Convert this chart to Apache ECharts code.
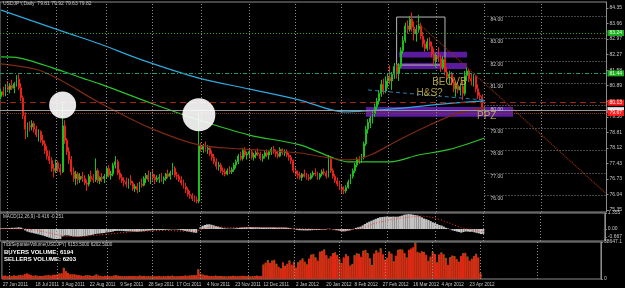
<!DOCTYPE html>
<html><head><meta charset="utf-8">
<script src="https://cdn.jsdelivr.net/npm/echarts@6/dist/echarts.min.js"></script>
<style>html,body{margin:0;padding:0;background:#000;}#c{width:625px;height:288px;}</style>
</head><body><div id="c"></div>
<script>
// ---------- DATA ----------
const firstDay = [2011, 5, 27];   // 27 Jun 2011
const lastDay = [2012, 3, 30];    // 30 Apr 2012
const emptyBarsRight = 55;
const xTickLabels = ["27 Jun 2011","18 Jul 2011","3 Aug 2011","22 Aug 2011","9 Sep 2011","28 Sep 2011","17 Oct 2011","4 Nov 2011","23 Nov 2011","12 Dec 2011","2 Jan 2012","20 Jan 2012","8 Feb 2012","27 Feb 2012","16 Mar 2012","4 Apr 2012","23 Apr 2012"];
const priceTicks = [84.35,83.66,82.97,82.27,81.58,80.89,80.20,79.50,78.81,78.12,77.43,76.73,76.04,75.35];
const macdTicks = [1.355, 0, -0.667];
const volTicks = [38.6471, 0];
const gridBars = [3,25,48,69,91,113,134,155,176,198,220,246];
const rightLevels = [84,83,82,81,80,79,78,77,76];

// candles: [open, high, low, close]
const candles = [
[80.40,80.75,80.30,80.62],[80.62,80.85,80.40,80.48],[80.48,80.95,80.42,80.85],[80.85,81.10,80.60,80.72],[80.72,81.00,80.55,80.90],
[80.90,81.15,80.70,80.78],[80.78,81.05,80.55,80.98],[80.98,81.36,80.85,81.18],[81.18,81.40,80.70,80.80],[80.80,81.00,80.20,80.35],
[80.35,80.45,79.40,79.55],[79.55,79.70,78.50,78.95],[78.95,79.25,78.60,79.10],[79.10,79.30,78.85,79.05],[79.05,79.35,78.90,79.20],
[79.20,79.30,78.80,78.95],[78.95,79.10,78.60,78.70],[78.70,78.95,78.40,78.85],[78.85,78.90,78.35,78.45],[78.45,78.70,78.20,78.30],
[78.30,78.45,77.85,78.00],[78.00,78.20,77.60,77.75],[77.75,78.00,77.40,77.55],[77.55,77.70,77.05,77.20],[77.20,77.40,76.80,77.10],
[77.10,77.60,77.00,77.45],[77.45,77.55,77.05,77.20],[77.20,77.40,76.90,77.05],[77.05,80.20,77.00,79.10],[79.10,79.35,78.30,78.45],
[78.45,78.55,77.80,77.95],[77.95,78.15,77.40,77.60],[77.60,77.75,76.90,77.05],[77.05,77.25,76.60,76.75],[76.75,77.10,76.45,76.95],
[76.95,77.05,76.50,76.70],[76.70,77.00,76.55,76.85],[76.85,77.05,76.60,76.75],[76.75,76.90,76.45,76.55],[76.55,76.70,76.20,76.50],
[76.50,76.95,76.40,76.85],[76.85,77.10,76.60,76.75],[76.75,76.95,76.55,76.70],[76.70,77.65,76.60,77.10],[77.10,77.20,76.55,76.65],
[76.65,76.85,76.50,76.80],[76.80,77.00,76.60,76.75],[76.75,76.95,76.55,76.85],[76.85,77.30,76.75,77.20],[77.20,77.35,76.80,76.90],
[76.90,77.10,76.70,76.95],[76.95,77.45,76.85,77.35],[77.35,77.75,77.20,77.50],[77.50,77.60,76.90,77.00],[77.00,77.15,76.70,76.80],
[76.80,76.95,76.55,76.65],[76.65,76.80,76.40,76.60],[76.60,76.80,76.35,76.50],[76.50,76.75,76.30,76.65],[76.65,76.90,76.45,76.55],
[76.55,76.65,76.20,76.30],[76.30,76.50,76.15,76.40],[76.40,76.55,76.10,76.25],[76.25,76.60,76.15,76.50],[76.50,76.75,76.35,76.45],
[76.45,76.85,76.40,76.75],[76.75,77.00,76.55,76.90],[76.90,77.10,76.60,76.70],[76.70,77.05,76.50,76.95],[76.95,77.15,76.65,76.80],
[76.80,76.95,76.50,76.70],[76.70,76.90,76.60,76.75],[76.75,76.95,76.55,76.80],[76.80,77.00,76.60,76.70],[76.70,76.85,76.50,76.75],
[76.75,77.00,76.65,76.95],[76.95,77.15,76.75,76.85],[76.85,77.10,76.70,77.00],[77.00,77.45,76.90,77.20],[77.20,77.30,76.80,76.90],
[76.90,77.05,76.70,76.85],[76.85,76.95,76.60,76.70],[76.70,76.85,76.45,76.55],[76.55,76.70,76.30,76.40],[76.40,76.55,76.10,76.25],
[76.25,76.35,75.95,76.05],[76.05,76.20,75.85,76.00],[76.00,76.10,75.75,75.85],[75.85,76.00,75.70,75.80],[75.80,75.95,75.65,75.75],
[75.75,79.70,75.65,78.20],[78.20,78.35,77.95,78.05],[78.05,78.30,77.90,78.20],[78.20,78.40,77.95,78.05],[78.05,78.25,77.85,78.10],
[78.10,78.20,77.75,77.85],[77.85,78.00,77.55,77.70],[77.70,77.85,77.40,77.50],[77.50,77.65,77.15,77.30],[77.30,77.50,77.10,77.35],
[77.35,77.45,77.00,77.10],[77.10,77.25,76.90,77.05],[77.05,77.20,76.85,76.95],[76.95,77.20,76.90,77.10],[77.10,77.30,76.95,77.05],
[77.05,77.25,76.95,77.15],[77.15,77.45,77.05,77.35],[77.35,77.60,77.20,77.50],[77.50,77.85,77.40,77.75],[77.75,77.95,77.55,77.65],
[77.65,78.10,77.55,78.00],[78.00,78.15,77.70,77.80],[77.80,77.95,77.60,77.85],[77.85,78.10,77.65,77.95],[77.95,78.05,77.60,77.70],
[77.70,77.90,77.55,77.80],[77.80,78.00,77.65,77.90],[77.90,78.10,77.75,77.85],[77.85,77.95,77.55,77.65],[77.65,77.85,77.50,77.75],
[77.75,78.00,77.65,77.90],[77.90,78.05,77.70,77.80],[77.80,78.00,77.60,77.95],[77.95,78.15,77.80,78.05],[78.05,78.20,77.85,77.95],
[77.95,78.05,77.70,77.85],[77.85,78.00,77.65,77.75],[77.75,78.15,77.70,78.05],[78.05,78.10,77.80,77.90],[77.90,78.05,77.75,77.95],
[77.95,78.05,77.70,77.80],[77.80,77.90,77.55,77.70],[77.70,77.80,77.40,77.55],[77.55,77.60,77.00,77.10],[77.10,77.25,76.85,76.95],
[76.95,77.10,76.75,76.90],[76.90,77.05,76.70,76.80],[76.80,77.00,76.65,76.95],[76.95,77.15,76.80,76.85],[76.85,77.00,76.70,76.80],
[76.80,76.95,76.65,76.75],[76.75,77.00,76.70,76.90],[76.90,77.10,76.80,77.00],[77.00,77.20,76.85,76.95],[76.95,77.05,76.70,76.80],
[76.80,77.00,76.70,76.95],[76.95,77.15,76.85,77.05],[77.05,77.20,76.90,77.00],[77.00,77.10,76.75,76.85],[76.85,77.80,76.80,77.60],
[77.60,77.75,77.00,77.10],[77.10,77.20,76.75,76.85],[76.85,76.95,76.55,76.65],[76.65,76.80,76.40,76.50],[76.50,76.65,76.25,76.35],
[76.35,76.50,76.10,76.25],[76.25,76.40,76.05,76.20],[76.20,76.45,76.10,76.35],[76.35,76.70,76.30,76.60],[76.60,76.95,76.50,76.85],
[76.85,77.20,76.75,77.10],[77.10,77.45,77.00,77.35],[77.35,77.70,77.25,77.60],[77.60,77.75,77.40,77.55],[77.55,77.85,77.45,77.70],
[77.70,78.40,77.60,78.30],[78.30,79.10,78.20,78.95],[78.95,79.40,78.75,79.25],[79.25,79.55,79.00,79.45],[79.45,79.80,79.20,79.65],
[79.65,80.10,79.50,79.95],[79.95,80.35,79.80,80.20],[80.20,80.70,80.05,80.55],[80.55,81.15,80.40,80.95],[80.95,81.20,80.50,80.65],
[80.65,81.30,80.55,81.10],[81.10,81.45,80.80,81.25],[81.25,81.80,80.95,81.10],[81.10,81.50,80.70,81.40],[81.40,81.90,81.20,81.75],
[81.75,81.85,81.20,81.45],[81.45,81.90,81.10,81.75],[81.75,82.60,81.65,82.45],[82.45,83.10,82.30,82.90],[82.90,83.70,82.80,83.55],
[83.55,83.80,83.20,83.40],[83.40,84.00,83.30,83.85],[83.85,84.15,83.30,83.50],[83.50,83.75,82.90,83.20],[83.20,83.60,82.85,83.40],
[83.40,84.05,83.25,83.55],[83.55,83.70,82.95,83.10],[83.10,83.30,82.60,82.75],[82.75,82.95,82.40,82.55],[82.55,83.00,82.45,82.85],
[82.85,83.05,82.50,82.65],[82.65,82.85,82.15,82.30],[82.30,82.55,81.80,82.00],[82.00,82.35,81.70,82.20],[82.20,82.60,81.95,82.10],
[82.10,82.25,81.50,81.70],[81.70,82.20,81.60,82.05],[82.05,82.15,81.35,81.50],[81.50,81.70,81.10,81.30],[81.30,81.55,80.95,81.40],
[81.40,81.50,80.90,81.05],[81.05,81.20,80.60,80.75],[80.75,81.00,80.40,80.90],[80.90,81.05,80.55,80.70],[80.70,81.00,80.45,80.85],
[80.85,81.10,80.25,80.55],[80.55,81.55,80.45,81.35],[81.35,81.70,81.10,81.55],[81.55,81.65,81.05,81.20],[81.20,81.45,80.90,81.10],
[81.10,81.40,80.85,81.30],[81.30,81.35,80.60,80.75],[80.75,80.95,80.30,80.45],[80.45,80.60,80.25,80.40],[80.40,80.50,79.75,79.85],
[79.81,79.92,79.63,79.82]
];

// moving averages: [bar index, value]
const maCyan = [[0,84.26],[29,83.28],[45,82.75],[64,82.04],[90,81.23],[113,80.74],[136,80.25],[156,79.72],[168,79.78],[181,79.88],[204,80.10],[220,80.21]];
const maGreen = [[0,82.17],[8,82.13],[29,81.50],[37,81.23],[45,80.97],[68,80.12],[90,79.36],[113,78.69],[136,78.25],[151,77.67],[158,77.49],[177,77.49],[190,77.80],[204,78.05],[220,78.56]];
const maBrown = [[0,81.86],[17,81.59],[27,81.14],[45,80.12],[68,79.00],[90,78.25],[109,78.07],[136,77.89],[149,77.67],[158,77.58],[168,77.80],[181,78.47],[195,79.14],[208,79.67],[220,79.90]];
const neckline = [[167,80.70],[220,80.25]];
const trendline = [[189,83.75],[275,76.11]];

// horizontal levels
const levelGreen1 = 83.24, levelGreen2 = 81.44, levelRed = 80.13, levelGrey = 79.80, levelBrown = 79.67;
// zones
const zonePPZ = [166, 233, 79.50, 79.94];
const zoneA = [181, 212, 82.15, 82.40];
const zoneB = [182, 212, 81.63, 81.90];
const boxTop = [180, 202, 81.81, 83.95];
// circles (bar, price, size)
const circles = [[28, 80.03, 27], [90, 79.59, 33]];
// annotation texts (bar, price, text)
const notes = [[204, 81.06, 'BEOVB'], [195, 80.57, 'H&S?'], [221, 79.54, 'PPZ']];

const macd = [
0.05,0.06,0.07,0.08,0.09,0.10,0.10,0.12,0.14,0.12,
0.02,-0.12,-0.22,-0.28,-0.32,-0.36,-0.41,-0.45,-0.50,-0.55,
-0.61,-0.67,-0.73,-0.79,-0.84,-0.85,-0.84,-0.84,-0.62,-0.55,
-0.54,-0.56,-0.60,-0.63,-0.64,-0.65,-0.63,-0.61,-0.60,-0.58,
-0.54,-0.51,-0.48,-0.42,-0.40,-0.38,-0.36,-0.34,-0.30,-0.28,
-0.26,-0.22,-0.17,-0.16,-0.16,-0.17,-0.18,-0.19,-0.20,-0.20,
-0.22,-0.22,-0.23,-0.22,-0.21,-0.19,-0.16,-0.14,-0.12,-0.11,
-0.10,-0.09,-0.08,-0.08,-0.08,-0.07,-0.06,-0.05,-0.03,-0.03,
-0.04,-0.06,-0.09,-0.12,-0.16,-0.20,-0.24,-0.27,-0.30,-0.32,
0.00,0.15,0.27,0.34,0.39,0.40,0.36,0.31,0.25,0.20,
0.15,0.10,0.06,0.04,0.03,0.03,0.04,0.06,0.08,0.10,
0.13,0.14,0.15,0.16,0.16,0.15,0.15,0.15,0.14,0.13,
0.13,0.13,0.13,0.14,0.14,0.13,0.12,0.13,0.13,0.13,
0.12,0.10,0.07,0.02,-0.03,-0.07,-0.10,-0.11,-0.12,-0.12,
-0.12,-0.11,-0.10,-0.09,-0.09,-0.08,-0.06,-0.05,-0.05,0.02,
0.02,-0.01,-0.05,-0.10,-0.14,-0.18,-0.20,-0.20,-0.17,-0.12,
-0.05,0.02,0.10,0.15,0.20,0.30,0.42,0.53,0.62,0.70,
0.78,0.86,0.93,1.00,1.02,1.04,1.05,1.04,1.04,1.05,
1.04,1.04,1.08,1.14,1.21,1.24,1.26,1.25,1.21,1.18,
1.15,1.08,0.99,0.89,0.83,0.76,0.67,0.57,0.50,0.43,
0.34,0.29,0.20,0.10,0.04,-0.03,-0.12,-0.17,-0.22,-0.26,
-0.31,-0.26,-0.21,-0.22,-0.24,-0.23,-0.28,-0.33,-0.37,-0.43,-0.416
];
const macdSignal = [[0,0.05],[12,0.0],[20,-0.25],[28,-0.6],[36,-0.65],[48,-0.45],[60,-0.22],[75,-0.12],[88,-0.22],[96,0.2],[105,0.12],[120,0.14],[135,0.05],[150,-0.06],[158,-0.12],[165,0.05],[170,0.45],[178,0.8],[186,1.0],[192,1.1],[198,0.95],[204,0.55],[210,0.1],[220,-0.251]];

// volumes in thousands of ticks
const volSellers = [
3.1,3.6,2.8,3.4,2.9,3.8,3.2,3.5,4.1,3.9,
5.2,5.8,4.6,3.9,3.4,3.6,3.1,3.3,3.0,3.5,
3.8,4.0,3.6,4.4,4.2,4.8,5.5,6.0,11.2,8.1,
6.2,5.0,4.6,4.9,4.1,3.8,3.4,3.2,3.6,4.0,
3.5,3.1,3.3,4.6,3.7,3.0,2.8,3.2,3.1,2.9,
3.0,3.4,3.8,3.3,3.0,2.9,2.7,3.1,2.8,3.0,
3.3,2.9,3.1,3.4,3.0,3.2,2.8,3.0,2.7,2.9,
2.6,2.8,3.0,2.7,2.9,2.8,3.1,2.9,3.3,3.0,
2.7,2.9,3.0,3.2,3.4,3.3,3.5,3.8,3.6,3.9,
9.8,5.6,4.4,3.9,3.5,3.3,3.0,3.2,3.4,3.1,
2.9,3.0,2.8,2.6,2.7,2.9,3.1,3.0,2.8,3.2,
3.4,3.1,2.9,3.0,2.8,2.7,3.1,3.3,2.9,3.0,
14.5,17.2,19.0,16.8,18.5,20.1,15.3,12.8,10.5,17.4,
13.2,16.0,18.8,14.9,17.5,12.1,16.9,19.6,20.8,18.2,
14.7,21.5,24.8,26.2,22.0,19.3,27.9,29.5,30.3,25.1,
20.8,23.9,26.4,28.0,24.6,21.2,16.1,22.7,25.3,24.0,
13.5,15.8,24.2,27.0,25.6,23.1,28.9,30.4,26.5,21.8,
14.2,26.7,29.3,27.8,31.5,25.9,19.7,22.4,28.1,26.6,
17.9,24.5,29.8,31.2,30.1,27.3,21.9,30.6,31.9,33.2,
37.5,28.4,26.8,29.1,27.6,25.4,18.3,23.5,27.9,26.1,
16.7,25.8,27.2,26.0,21.4,14.9,22.1,24.6,23.3,20.9,
17.5,24.0,26.3,27.4,22.8,19.2,20.5,23.9,25.7,22.6,
5.8
];
const volBuyers = [
3.3,3.4,3.0,3.2,3.1,3.6,3.4,3.7,4.3,3.7,
4.9,5.5,4.8,4.1,3.2,3.8,3.3,3.1,3.2,3.3,
3.6,4.2,3.4,4.2,4.4,4.6,5.8,5.7,11.8,7.8,
6.5,4.8,4.8,4.7,4.3,3.6,3.6,3.0,3.8,3.8,
3.7,3.0,3.5,4.8,3.5,3.2,2.6,3.4,2.9,3.1,
2.8,3.6,4.0,3.1,3.2,2.7,2.9,2.9,3.0,2.8,
3.1,3.1,2.9,3.6,2.8,3.4,2.6,3.2,2.9,2.7,
2.8,2.6,3.2,2.5,3.1,2.6,3.3,2.7,3.5,2.8,
2.9,2.7,3.2,3.0,3.6,3.1,3.7,3.6,3.8,3.7,
10.3,5.4,4.6,3.7,3.7,3.1,3.2,3.0,3.6,2.9,
3.1,2.8,3.0,2.4,2.9,2.7,3.3,2.8,3.0,3.0,
3.2,3.3,2.7,3.2,2.6,2.9,2.9,3.5,2.7,3.2,
15.2,16.5,19.8,16.1,19.3,19.4,16.0,12.1,11.2,16.7,
13.9,15.3,19.5,14.2,18.2,11.4,17.6,18.9,21.5,17.5,
15.4,20.8,25.5,25.5,22.7,18.6,28.6,28.8,31.0,24.4,
21.5,23.2,27.1,27.3,25.3,20.5,16.8,22.0,26.0,23.3,
14.2,15.1,24.9,26.3,26.3,22.4,29.6,29.7,27.2,21.1,
14.9,26.0,30.0,27.1,32.2,25.2,20.4,21.7,28.8,25.9,
18.6,23.8,30.5,30.5,30.8,26.6,22.6,29.9,31.3,32.5,
38.2,27.7,27.5,28.4,28.3,24.7,19.0,22.8,28.6,25.4,
17.4,25.1,27.9,25.3,22.1,14.2,22.8,23.9,24.0,20.2,
18.2,23.3,27.0,26.7,23.5,18.5,21.2,23.2,26.4,21.9,
6.0
];

// ---------- BUILD ----------
const MON = ['Jan','Feb','Mar','Apr','May','Jun','Jul','Aug','Sep','Oct','Nov','Dec'];
const categories = [];
{
  let t = Date.UTC(firstDay[0], firstDay[1], firstDay[2]);
  const end = Date.UTC(lastDay[0], lastDay[1], lastDay[2]);
  while (t <= end) {
    const d = new Date(t);
    const wd = d.getUTCDay();
    if (wd !== 0 && wd !== 6) categories.push(d.getUTCDate() + ' ' + MON[d.getUTCMonth()] + ' ' + d.getUTCFullYear());
    t += 86400000;
  }
  for (let k = 0; k < emptyBarsRight; k++) categories.push(' ' + k);
}
const lastIdx = categories.length - 1;

const FONT = 'Liberation Sans';
const TXT = '#c8c8c8';
const GRIDC = '#8c8c8c';

function xAx(gi, showLabels) {
  return {
    type: 'category', gridIndex: gi, data: categories, boundaryGap: true,
    axisLine: { show: false }, axisTick: { show: false }, splitLine: { show: false },
    axisLabel: showLabels ? {
      show: true, color: TXT, fontSize: 4.6, fontFamily: FONT, align: 'left', margin: 3,
      interval: (i, v) => xTickLabels.indexOf(v) >= 0
    } : { show: false }
  };
}
function vGrid(xi, yi) {
  return {
    type: 'line', xAxisIndex: xi, yAxisIndex: yi, data: [], silent: true,
    markLine: {
      silent: true, symbol: 'none', animation: false,
      lineStyle: { color: GRIDC, type: [1, 2], width: 1 },
      label: { show: false },
      data: gridBars.map(b => ({ xAxis: b }))
    }
  };
}
function tag(value, bg, fg, lineColor, lineType) {
  return {
    yAxis: value,
    lineStyle: { color: lineColor, type: lineType, width: 1 },
    label: {
      show: true, position: 'end', distance: 1, formatter: value.toFixed(2),
      backgroundColor: bg, color: fg, fontSize: 5, fontFamily: FONT, padding: [1, 2, 0, 2]
    }
  };
}

const candleData = candles.map(r => [r[0], r[3], r[2], r[1]]);

const option = {
  backgroundColor: '#000000',
  animation: false,
  grid: [
    { left: 0, right: 18, top: 2, height: 210, show: true, borderColor: GRIDC, borderWidth: 1 },
    { left: 0, right: 18, top: 213, height: 28, show: true, borderColor: GRIDC, borderWidth: 1 },
    { left: 0, right: 18, top: 242, height: 37, show: true, borderColor: GRIDC, borderWidth: 1 }
  ],
  xAxis: [xAx(0, false), xAx(1, false), xAx(2, true)],
  yAxis: [
    { type: 'value', gridIndex: 0, position: 'right', min: 75.26, max: 84.62, scale: true,
      splitLine: { show: false }, axisLine: { show: true, lineStyle: { color: GRIDC } },
      axisTick: { show: true, length: 2, customValues: priceTicks, lineStyle: { color: GRIDC } },
      axisLabel: { customValues: priceTicks, color: TXT, fontSize: 5, fontFamily: FONT, margin: 3, formatter: v => v.toFixed(2) } },
    { type: 'value', gridIndex: 1, position: 'right', min: -1.017, max: 1.355,
      splitLine: { show: false }, axisLine: { show: true, lineStyle: { color: GRIDC } },
      axisTick: { show: true, length: 2, customValues: macdTicks, lineStyle: { color: GRIDC } },
      axisLabel: { customValues: macdTicks, color: TXT, fontSize: 5, fontFamily: FONT, margin: 3,
        formatter: v => v === 0 ? '0.00' : (v > 1 ? '1.355' : '-0.667') } },
    { type: 'value', gridIndex: 2, position: 'right', min: 0, max: 38.6471,
      splitLine: { show: false }, axisLine: { show: true, lineStyle: { color: GRIDC } },
      axisTick: { show: true, length: 2, customValues: volTicks, lineStyle: { color: GRIDC } },
      axisLabel: { customValues: volTicks, color: TXT, fontSize: 5, fontFamily: FONT, margin: 3,
        formatter: v => v === 0 ? '0' : (v * 1000).toFixed(1) } }
  ],
  graphic: [
    { type: 'text', left: 3, top: 1, style: { text: 'USDJPY,Daily  79.81 79.92 79.63 79.82', fill: TXT, font: '5px ' + FONT } },
    { type: 'text', left: 3, top: 214, style: { text: 'MACD(12,26,9) -0.416 -0.251', fill: TXT, font: '4.6px ' + FONT } },
    { type: 'text', left: 3, top: 242, style: { text: 'TickSeparateVolume(USDJPY) 6153.5000 6202.5000', fill: TXT, font: '4.6px ' + FONT } },
    { type: 'text', left: 4, top: 249, style: { text: 'BUYERS VOLUME: 6194', fill: '#ffffff', font: 'bold 6px ' + FONT } },
    { type: 'text', left: 4, top: 256, style: { text: 'SELLERS VOLUME: 6203', fill: '#ffffff', font: 'bold 6px ' + FONT } }
  ],
  series: [
    vGrid(0, 0), vGrid(1, 1), vGrid(2, 2),
    // right-side integer price grid
    { type: 'line', xAxisIndex: 0, yAxisIndex: 0, data: [], silent: true,
      markLine: { silent: true, symbol: 'none', animation: false,
        lineStyle: { color: GRIDC, type: [1, 2], width: 1 },
        data: rightLevels.map(v => [
          { coord: [220, v], label: { show: true, position: 'insideStartBottom', distance: [6, 1], color: TXT, fontSize: 5, fontFamily: FONT, formatter: v.toFixed(2) } },
          { coord: [lastIdx, v] }
        ]) } },
    { type: 'candlestick', xAxisIndex: 0, yAxisIndex: 0, data: candleData, barWidth: 1.4,
      itemStyle: { color: '#1dbf1d', color0: '#e8221a', borderColor: '#1dbf1d', borderColor0: '#e8221a', borderWidth: 1 },
      markArea: { silent: true, data: [
        [{ coord: [zonePPZ[0], zonePPZ[3]], itemStyle: { color: '#5b1b9e' } }, { coord: [zonePPZ[1], zonePPZ[2]] }],
        [{ coord: [zoneA[0], zoneA[3]], itemStyle: { color: '#5b1b9e' } }, { coord: [zoneA[1], zoneA[2]] }],
        [{ coord: [zoneB[0], zoneB[3]], itemStyle: { color: '#5b1b9e' } }, { coord: [zoneB[1], zoneB[2]] }],
        [{ coord: [boxTop[0], boxTop[3]], itemStyle: { color: 'rgba(0,0,0,0)', borderColor: '#b8b8b8', borderWidth: 1 } }, { coord: [boxTop[1], boxTop[2]] }]
      ] } },
    { type: 'line', xAxisIndex: 0, yAxisIndex: 0, data: maCyan, smooth: 0.3, showSymbol: false, lineStyle: { color: '#2fa9dc', width: 1.2 } },
    { type: 'line', xAxisIndex: 0, yAxisIndex: 0, data: maGreen, smooth: 0.3, showSymbol: false, lineStyle: { color: '#2cc42c', width: 1.2 } },
    { type: 'line', xAxisIndex: 0, yAxisIndex: 0, data: maBrown, smooth: 0.3, showSymbol: false, lineStyle: { color: '#7e2a12', width: 1.2 } },
    { type: 'line', xAxisIndex: 0, yAxisIndex: 0, data: neckline, showSymbol: false, lineStyle: { color: '#2a7fb0', width: 1, type: [4, 3] } },
    { type: 'line', xAxisIndex: 0, yAxisIndex: 0, data: trendline, showSymbol: false, lineStyle: { color: '#8a2a12', width: 1.3, type: [1, 1] } },
    // horizontal levels with price tags
    { type: 'line', xAxisIndex: 0, yAxisIndex: 0, data: [], silent: true, z: 5,
      markLine: { silent: true, symbol: 'none', animation: false, data: [
        tag(levelGreen1, '#1fae1f', '#e8ffe8', '#1fae1f', [1, 2]),
        tag(levelGreen2, '#1fae1f', '#e8ffe8', '#1a9a6a', [4, 2, 1, 2]),
        tag(levelRed, '#ff1a1a', '#ffffff', '#a8240f', [6, 4]),
        tag(levelGrey, '#e8e8e8', '#e8e8e8', '#9a9a9a', 'solid'),
        tag(levelBrown, '#ff1a1a', '#ffffff', '#8b3a1a', [1, 1])
      ] } },
    { type: 'scatter', xAxisIndex: 0, yAxisIndex: 0, z: 6, silent: true,
      data: circles.map(c => ({ value: [c[0], c[1]], symbolSize: c[2] })),
      itemStyle: { color: '#ffffff', opacity: 0.9 } },
    { type: 'scatter', xAxisIndex: 0, yAxisIndex: 0, z: 7, silent: true, symbolSize: 0,
      data: notes.map(n => ({ value: [n[0], n[1]], name: n[2] })),
      label: { show: true, position: 'inside', formatter: p => p.name, color: '#d8c24a', fontSize: 10, fontFamily: FONT } },
    // MACD
    { type: 'bar', xAxisIndex: 1, yAxisIndex: 1, data: macd, barCategoryGap: '0%', itemStyle: { color: '#c4c4c4' } },
    { type: 'line', xAxisIndex: 1, yAxisIndex: 1, data: macdSignal, showSymbol: false, lineStyle: { color: '#ff3a2a', width: 1, type: [1, 2] } },
    // volume
    { type: 'bar', xAxisIndex: 2, yAxisIndex: 2, data: volBuyers, barGap: '-100%', barCategoryGap: '15%', itemStyle: { color: '#1da81d' } },
    { type: 'bar', xAxisIndex: 2, yAxisIndex: 2, data: volSellers, barGap: '-100%', barCategoryGap: '15%', itemStyle: { color: '#f01e14' } }
  ]
};

const chart = echarts.init(document.getElementById('c'), null, { renderer: 'canvas' });
chart.setOption(option);
</script>
</body></html>
